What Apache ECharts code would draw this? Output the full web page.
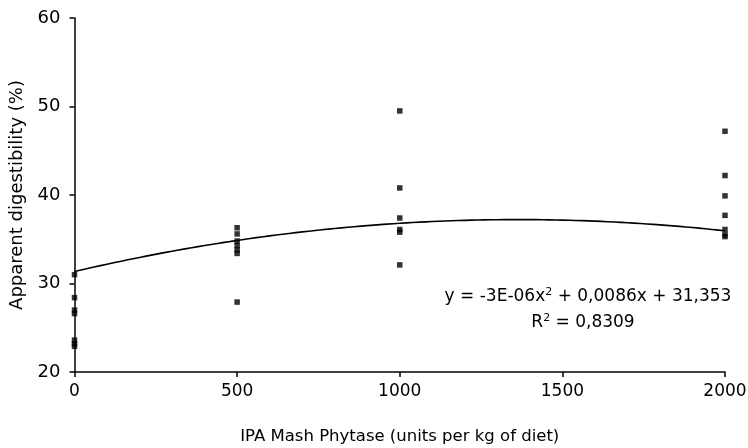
<!DOCTYPE html>
<html>
<head>
<meta charset="utf-8">
<script src="https://cdn.jsdelivr.net/npm/echarts@6/dist/echarts.min.js"></script>
<style>
  html, body { margin: 0; padding: 0; background: #fff; }
  #chart { width: 748px; height: 448px; }
</style>
</head>
<body>
<div id="chart"></div>
<script>
// Phytase dose levels (units per kg of diet) and replicate digestibility values (%)
const doses = [0, 500, 1000, 2000];
const digest0 = [31.0, 28.4, 27.0, 26.6, 23.6, 23.2, 22.9];
const digest500 = [36.3, 35.6, 34.8, 34.3, 33.8, 33.4, 27.9];
const digest1000 = [49.5, 40.8, 37.4, 36.1, 35.8, 32.1];
const digest2000 = [47.2, 42.2, 39.9, 37.7, 36.1, 35.5, 35.3];
const xTicks = [0, 500, 1000, 1500, 2000];
const yTicks = [20, 30, 40, 50, 60];

// Quadratic trendline coefficients (a x^2 + b x + c), a shown rounded as -3E-06
const trendCoef = [-3.15e-6, 0.0086, 31.353];
const rSquared = '0,8309';

const groups = [digest0, digest500, digest1000, digest2000];
const scatterData = [];
groups.forEach((vals, i) => vals.forEach(v => scatterData.push([doses[i], v])));

const trendData = [];
for (let x = 0; x <= 2000; x += 20) {
  trendData.push([x, trendCoef[0] * x * x + trendCoef[1] * x + trendCoef[2]]);
}

const font = 'DejaVu Sans';
const richEq = {
  t: { fontFamily: font, fontSize: 17, fill: '#000', color: '#000' },
  s: { fontFamily: font, fontSize: 11, fill: '#000', color: '#000', verticalAlign: 'top', padding: [0, 0, 9, 0] }
};

const chart = echarts.init(document.getElementById('chart'));
chart.setOption({
  animation: false,
  backgroundColor: '#fff',
  grid: { left: 74.5, right: 23, top: 18, bottom: 76, containLabel: false, outerBoundsMode: 'none' },
  xAxis: {
    type: 'value',
    min: xTicks[0], max: xTicks[xTicks.length - 1], interval: 500,
    name: 'IPA Mash Phytase (units per kg of diet)',
    nameLocation: 'middle', nameGap: 56,
    nameTextStyle: { color: '#000', fontFamily: font, fontSize: 16.5 },
    axisLine: { lineStyle: { color: '#000', width: 1.5 } },
    axisTick: { length: 5, lineStyle: { color: '#000', width: 1.5 } },
    axisLabel: { color: '#000', fontFamily: font, fontSize: 17, margin: 11, formatter: v => String(v) },
    splitLine: { show: false }
  },
  yAxis: {
    type: 'value',
    min: yTicks[0], max: yTicks[yTicks.length - 1], interval: 10,
    name: 'Apparent digestibility (%)',
    nameLocation: 'middle', nameGap: 40, nameRotate: 90,
    nameTextStyle: { color: '#000', fontFamily: font, fontSize: 18 },
    axisLine: { show: true, lineStyle: { color: '#000', width: 1.5 } },
    axisTick: { show: true, length: 5, lineStyle: { color: '#000', width: 1.5 } },
    axisLabel: { color: '#000', fontFamily: font, fontSize: 18, margin: 14 },
    splitLine: { show: false }
  },
  series: [
    {
      type: 'line',
      data: trendData,
      showSymbol: false,
      lineStyle: { color: '#000', width: 1.6 },
      silent: true,
      z: 2
    },
    {
      type: 'scatter',
      data: scatterData,
      symbol: 'rect',
      symbolSize: 5.5,
      itemStyle: { color: '#000' },
      z: 3
    }
  ],
  graphic: [
    {
      type: 'text',
      x: 588, y: 297,
      style: {
        text: '{t|y = -3E-06x}{s|2}{t| + 0,0086x + 31,353}',
        align: 'center', verticalAlign: 'middle',
        rich: richEq
      }
    },
    {
      type: 'text',
      x: 583, y: 323,
      style: {
        text: '{t|R}{s|2}{t| = ' + rSquared + '}',
        align: 'center', verticalAlign: 'middle',
        rich: richEq
      }
    }
  ]
});
</script>
</body>
</html>
